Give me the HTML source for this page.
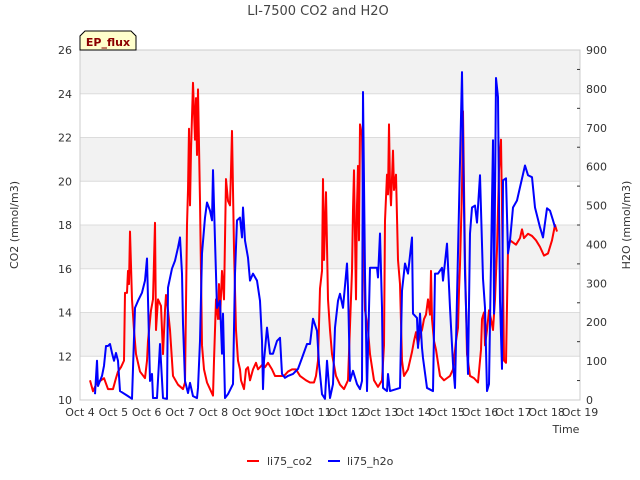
<!DOCTYPE html>
<html><head><meta charset="utf-8"><style>
body{margin:0;background:#fff;}
svg{display:block;font-family:"DejaVu Sans","Liberation Sans",sans-serif;}
</style></head><body>
<svg id="chart" width="640" height="480">
<text x="318" y="15" text-anchor="middle" font-size="13" fill="#444">LI-7500 CO2 and H2O</text>
<g id="plot"></g>
<g>
<path d="M80,50 L80,36 L85,31 L131,31 L136,36 L136,50 Z" fill="#ffffcc" stroke="#000" stroke-width="1"/>
<text x="108" y="46" text-anchor="middle" font-size="11" font-weight="bold" fill="#8b0000">EP_flux</text>
</g>
<text transform="translate(18,225) rotate(-90)" text-anchor="middle" font-size="11" fill="#333">CO2 (mmol/m3)</text>
<text transform="translate(630,225) rotate(-90)" text-anchor="middle" font-size="11" fill="#333">H2O (mmol/m3)</text>
<text x="566" y="433" text-anchor="middle" font-size="11" fill="#333">Time</text>
<g>
<g><line x1="247" y1="461" x2="259" y2="461" stroke="#f00" stroke-width="2"/><text x="267" y="465" font-size="11" fill="#333">li75_co2</text></g>
<g><line x1="328" y1="461" x2="340" y2="461" stroke="#00f" stroke-width="2"/><text x="347" y="465" font-size="11" fill="#333">li75_h2o</text></g>
</g>
</svg>
<script>
const xTickLabels=["Oct 4","Oct 5","Oct 6","Oct 7","Oct 8","Oct 9","Oct 10","Oct 11","Oct 12","Oct 13","Oct 14","Oct 15","Oct 16","Oct 17","Oct 18","Oct 19"];
const leftTicks=[10,12,14,16,18,20,22,24,26];
const rightTicks=[0,100,200,300,400,500,600,700,800,900];
const co2Days=[0.30,0.39,0.51,0.63,0.72,0.84,0.99,1.08,1.14,1.23,1.32,1.35,1.41,1.44,1.47,1.50,1.56,1.62,1.68,1.80,1.95,2.01,2.04,2.13,2.19,2.25,2.28,2.34,2.43,2.49,2.55,2.58,2.64,2.70,2.79,2.94,3.09,3.15,3.21,3.24,3.27,3.30,3.33,3.39,3.45,3.48,3.51,3.54,3.60,3.66,3.72,3.81,3.90,3.99,4.02,4.08,4.14,4.17,4.20,4.26,4.32,4.38,4.44,4.50,4.53,4.56,4.62,4.68,4.74,4.80,4.83,4.92,4.98,5.04,5.10,5.19,5.28,5.34,5.46,5.55,5.64,5.76,5.85,5.94,6.00,6.12,6.24,6.36,6.48,6.60,6.78,6.90,7.02,7.08,7.14,7.20,7.26,7.29,7.32,7.38,7.44,7.50,7.56,7.68,7.80,7.92,7.98,8.04,8.16,8.19,8.22,8.28,8.31,8.34,8.37,8.40,8.46,8.55,8.64,8.70,8.82,8.94,9.06,9.12,9.15,9.21,9.24,9.27,9.30,9.33,9.39,9.42,9.48,9.54,9.60,9.66,9.72,9.84,9.96,10.02,10.08,10.14,10.20,10.26,10.32,10.38,10.44,10.50,10.53,10.56,10.62,10.68,10.80,10.92,11.01,11.10,11.19,11.28,11.34,11.37,11.40,11.46,11.49,11.55,11.61,11.70,11.82,11.94,12.03,12.06,12.12,12.15,12.21,12.27,12.33,12.39,12.45,12.51,12.57,12.63,12.69,12.72,12.78,12.84,12.90,13.08,13.20,13.26,13.32,13.44,13.56,13.68,13.80,13.92,14.04,14.16,14.25,14.31];
const co2Values=[10.9,10.4,10.8,10.9,11.0,10.5,10.5,11.0,11.3,11.5,11.8,14.9,14.9,15.9,15.3,17.7,14.6,13.2,12.1,11.3,11.0,11.8,12.7,14.1,14.6,18.1,13.2,14.6,14.3,12.1,14.1,14.8,14.1,13.2,11.1,10.7,10.5,10.8,18.0,19.6,22.4,18.9,21.4,24.5,21.9,23.8,21.2,24.2,19.1,12.5,11.4,10.8,10.5,10.2,11.8,14.6,13.7,15.3,13.7,15.9,14.6,20.1,19.1,18.9,20.5,22.3,16.9,13.2,11.8,11.4,10.9,10.5,11.4,11.5,10.9,11.4,11.7,11.4,11.6,11.5,11.7,11.4,11.1,11.1,11.1,11.1,11.3,11.4,11.4,11.1,10.9,10.8,10.8,11.1,11.8,15.1,15.9,20.1,16.4,19.5,14.6,13.2,12.1,11.1,10.7,10.5,10.7,10.9,15.9,18.7,20.5,14.6,18.9,20.7,17.3,22.6,22.1,14.1,13.2,12.1,10.9,10.6,10.9,12.5,18.2,20.3,19.4,22.6,19.8,18.9,21.4,19.6,20.3,16.4,15.3,11.8,11.1,11.4,12.2,12.7,13.1,12.5,13.0,13.2,13.7,13.9,14.6,13.9,15.9,13.7,12.7,12.3,11.1,10.9,11.0,11.1,11.4,12.7,13.3,15.0,16.2,19.6,23.2,16.4,12.1,11.1,11.0,10.8,12.3,13.7,14.0,12.5,13.2,14.1,13.7,13.2,14.6,16.9,20.5,21.9,15.5,11.8,11.7,16.9,17.3,17.1,17.4,17.8,17.4,17.6,17.5,17.3,17.0,16.6,16.7,17.3,18.0,17.7];
const h2oDays=[0.45,0.51,0.54,0.60,0.66,0.72,0.78,0.84,0.90,0.96,1.02,1.08,1.14,1.20,1.44,1.56,1.65,1.74,1.86,1.95,2.01,2.10,2.16,2.19,2.31,2.40,2.49,2.61,2.64,2.76,2.85,2.94,3.00,3.06,3.09,3.15,3.24,3.30,3.39,3.51,3.54,3.60,3.66,3.75,3.81,3.90,3.96,3.99,4.05,4.11,4.20,4.26,4.29,4.35,4.44,4.59,4.65,4.71,4.80,4.86,4.89,4.95,5.04,5.10,5.19,5.31,5.40,5.46,5.49,5.52,5.61,5.70,5.79,5.91,6.00,6.06,6.15,6.24,6.39,6.54,6.66,6.81,6.90,6.99,7.11,7.17,7.26,7.35,7.41,7.50,7.59,7.65,7.74,7.80,7.89,8.01,8.04,8.10,8.19,8.31,8.40,8.46,8.49,8.55,8.61,8.70,8.79,8.91,8.94,9.00,9.06,9.09,9.21,9.24,9.30,9.60,9.66,9.75,9.84,9.96,9.99,10.11,10.14,10.20,10.26,10.29,10.41,10.59,10.65,10.74,10.86,10.89,11.01,11.10,11.19,11.25,11.46,11.55,11.64,11.70,11.76,11.85,11.91,12.00,12.09,12.15,12.21,12.27,12.39,12.42,12.48,12.54,12.60,12.66,12.69,12.78,12.84,12.90,12.99,13.11,13.20,13.35,13.44,13.56,13.65,13.80,13.89,14.01,14.10,14.19,14.25];
const h2oValues=[15,101,36,49,62,88,139,139,144,121,101,121,101,23,10,3,237,255,276,307,364,49,67,5,5,144,5,3,289,338,358,392,418,325,196,49,18,44,10,5,31,152,377,469,508,487,462,591,410,237,255,119,222,5,15,41,325,462,469,418,495,410,366,307,325,307,255,152,28,101,186,119,119,152,160,67,57,62,67,80,108,144,144,209,178,93,15,3,101,5,41,186,255,273,237,351,289,49,75,41,28,49,792,325,23,340,340,340,315,428,237,31,23,67,23,31,281,351,325,418,222,211,134,222,134,108,31,23,325,325,340,307,402,237,93,31,843,325,67,428,495,500,456,578,312,237,23,41,668,222,828,779,255,80,565,570,377,410,495,513,547,603,578,573,495,444,418,493,487,462,444];

const L=80,R=580,T=50,B=400;
const NS='http://www.w3.org/2000/svg';
const X=d=>L+(R-L)*d/15;
const YL=v=>B-(B-T)*(v-10)/16;
const YR=v=>B-(B-T)*v/900;
const g=document.getElementById('plot');
function mk(tag,attrs){const e=document.createElementNS(NS,tag);for(const k in attrs)e.setAttribute(k,attrs[k]);g.appendChild(e);return e;}
// bands
for(let i=0;i<leftTicks.length-1;i++){
  if(i%2===1){const r=mk('rect',{x:L,y:YL(leftTicks[i+1]),width:R-L,height:YL(leftTicks[i])-YL(leftTicks[i+1]),fill:'#f2f2f2'});
  
  }
}
leftTicks.forEach(v=>{
  const l=mk('line',{x1:L,x2:R,y1:YL(v),y2:YL(v),stroke:'#dcdcdc','stroke-width':1});
  
  
  const t=mk('text',{x:L-8,y:YL(v)+4,'text-anchor':'end','font-size':11,fill:'#333'});
  t.textContent=v;
  
  
});
const frame=mk('rect',{x:L,y:T,width:R-L,height:B-T,fill:'none',stroke:'#ccc','stroke-width':1});


rightTicks.forEach(v=>{
  const t=mk('text',{x:R+6,y:YR(v)+4,'font-size':11,fill:'#333'});
  t.textContent=v;
  
  
  if(v<900){const m=mk('line',{x1:R-3,x2:R+0,y1:YR(v+50),y2:YR(v+50),stroke:'#333'});
  
  }
});
xTickLabels.forEach((s,i)=>{
  const t=mk('text',{x:X(i),y:416,'text-anchor':'middle','font-size':11,fill:'#333'});
  t.textContent=s;
  
  
});
const co2=mk('polyline',{points:co2Days.map((d,i)=>X(d)+','+YL(co2Values[i])).join(' '),fill:'none',stroke:'#f00','stroke-width':2,'stroke-linejoin':'round'});


const h2o=mk('polyline',{points:h2oDays.map((d,i)=>X(d)+','+YR(h2oValues[i])).join(' '),fill:'none',stroke:'#00f','stroke-width':2,'stroke-linejoin':'round'});


</script>
</body></html>
